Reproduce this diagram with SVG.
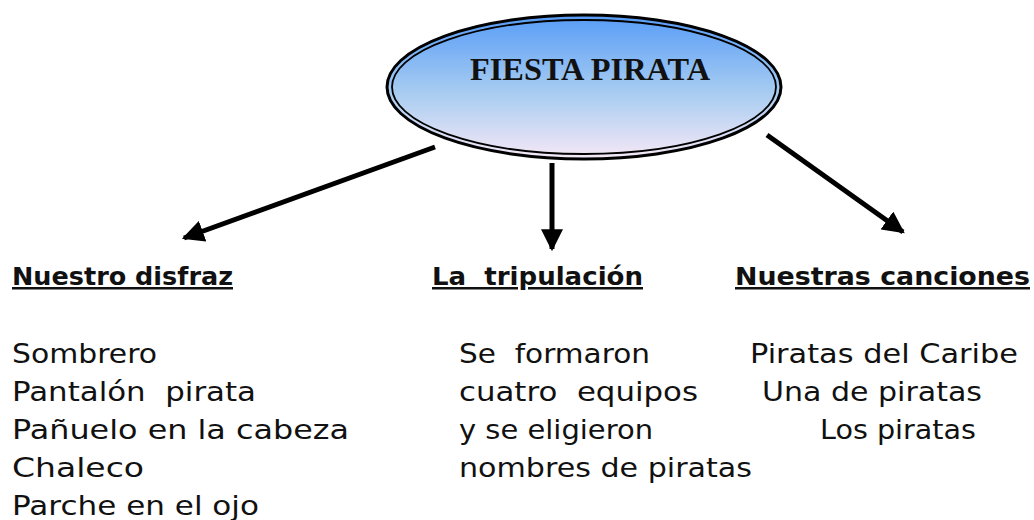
<svg xmlns="http://www.w3.org/2000/svg" width="1034" height="520" viewBox="0 0 1034 520">
<defs>
<linearGradient id="g" x1="0" y1="0" x2="0" y2="1">
<stop offset="0" stop-color="#579cf7"/>
<stop offset="0.55" stop-color="#a9cdf1"/>
<stop offset="1" stop-color="#f6e8f6"/>
</linearGradient>
<marker id="ah" viewBox="0 0 10 10" refX="9" refY="5" markerWidth="4.4" markerHeight="4.4" orient="auto" markerUnits="strokeWidth">
<path d="M0,0 L10,5 L0,10 z" fill="#000"/>
</marker>
<style>
.hd{font-family:"DejaVu Sans","Liberation Sans",sans-serif;font-weight:bold;font-size:25px;text-decoration:underline;fill:#111}
.bd{font-family:"DejaVu Sans","Liberation Sans",sans-serif;font-size:27px;fill:#111}
.cn{stroke:#000;stroke-width:5;fill:none;marker-end:url(#ah)}
</style>
</defs>
<rect width="1034" height="520" fill="#fff"/>
<g id="connectors">
<line class="cn" x1="435" y1="147" x2="184" y2="238"/>
<line class="cn" x1="552" y1="163" x2="552" y2="249"/>
<line class="cn" x1="767" y1="135" x2="903" y2="232"/>
</g>
<g id="fiesta-pirata">
<ellipse cx="584" cy="87" rx="197" ry="72" fill="url(#g)" stroke="#000" stroke-width="3"/>
<ellipse cx="584" cy="87" rx="192" ry="67" fill="none" stroke="#000" stroke-width="1.8"/>
<text x="470" y="80" font-family="Liberation Serif, serif" font-weight="bold" font-size="32" fill="#111" textLength="240" lengthAdjust="spacingAndGlyphs">FIESTA PIRATA</text>
</g>
<g id="nuestro-disfraz">
<text class="hd" x="12" y="285" textLength="221" lengthAdjust="spacingAndGlyphs">Nuestro disfraz</text>
<text class="bd" x="12" y="363" textLength="145" lengthAdjust="spacingAndGlyphs">Sombrero</text>
<text class="bd" x="12" y="401" textLength="244" lengthAdjust="spacingAndGlyphs" xml:space="preserve">Pantalón  pirata</text>
<text class="bd" x="12" y="439" textLength="337" lengthAdjust="spacingAndGlyphs">Pañuelo en la cabeza</text>
<text class="bd" x="12" y="477" textLength="132" lengthAdjust="spacingAndGlyphs">Chaleco</text>
<text class="bd" x="12" y="515" textLength="247" lengthAdjust="spacingAndGlyphs">Parche en el ojo</text>
</g>
<g id="la-tripulacion">
<text class="hd" x="432" y="285" textLength="211" lengthAdjust="spacingAndGlyphs" xml:space="preserve">La  tripulación</text>
<text class="bd" x="459" y="363" textLength="191" lengthAdjust="spacingAndGlyphs" xml:space="preserve">Se  formaron</text>
<text class="bd" x="459" y="401" textLength="239" lengthAdjust="spacingAndGlyphs" xml:space="preserve">cuatro  equipos</text>
<text class="bd" x="459" y="439" textLength="194" lengthAdjust="spacingAndGlyphs">y se eligieron</text>
<text class="bd" x="459" y="477" textLength="293" lengthAdjust="spacingAndGlyphs">nombres de piratas</text>
</g>
<g id="nuestras-canciones">
<text class="hd" x="735" y="285" textLength="295" lengthAdjust="spacingAndGlyphs">Nuestras canciones</text>
<text class="bd" x="750" y="363" textLength="268" lengthAdjust="spacingAndGlyphs">Piratas del Caribe</text>
<text class="bd" x="762" y="401" textLength="220" lengthAdjust="spacingAndGlyphs">Una de piratas</text>
<text class="bd" x="820" y="439" textLength="156" lengthAdjust="spacingAndGlyphs">Los piratas</text>
</g>
</svg>
